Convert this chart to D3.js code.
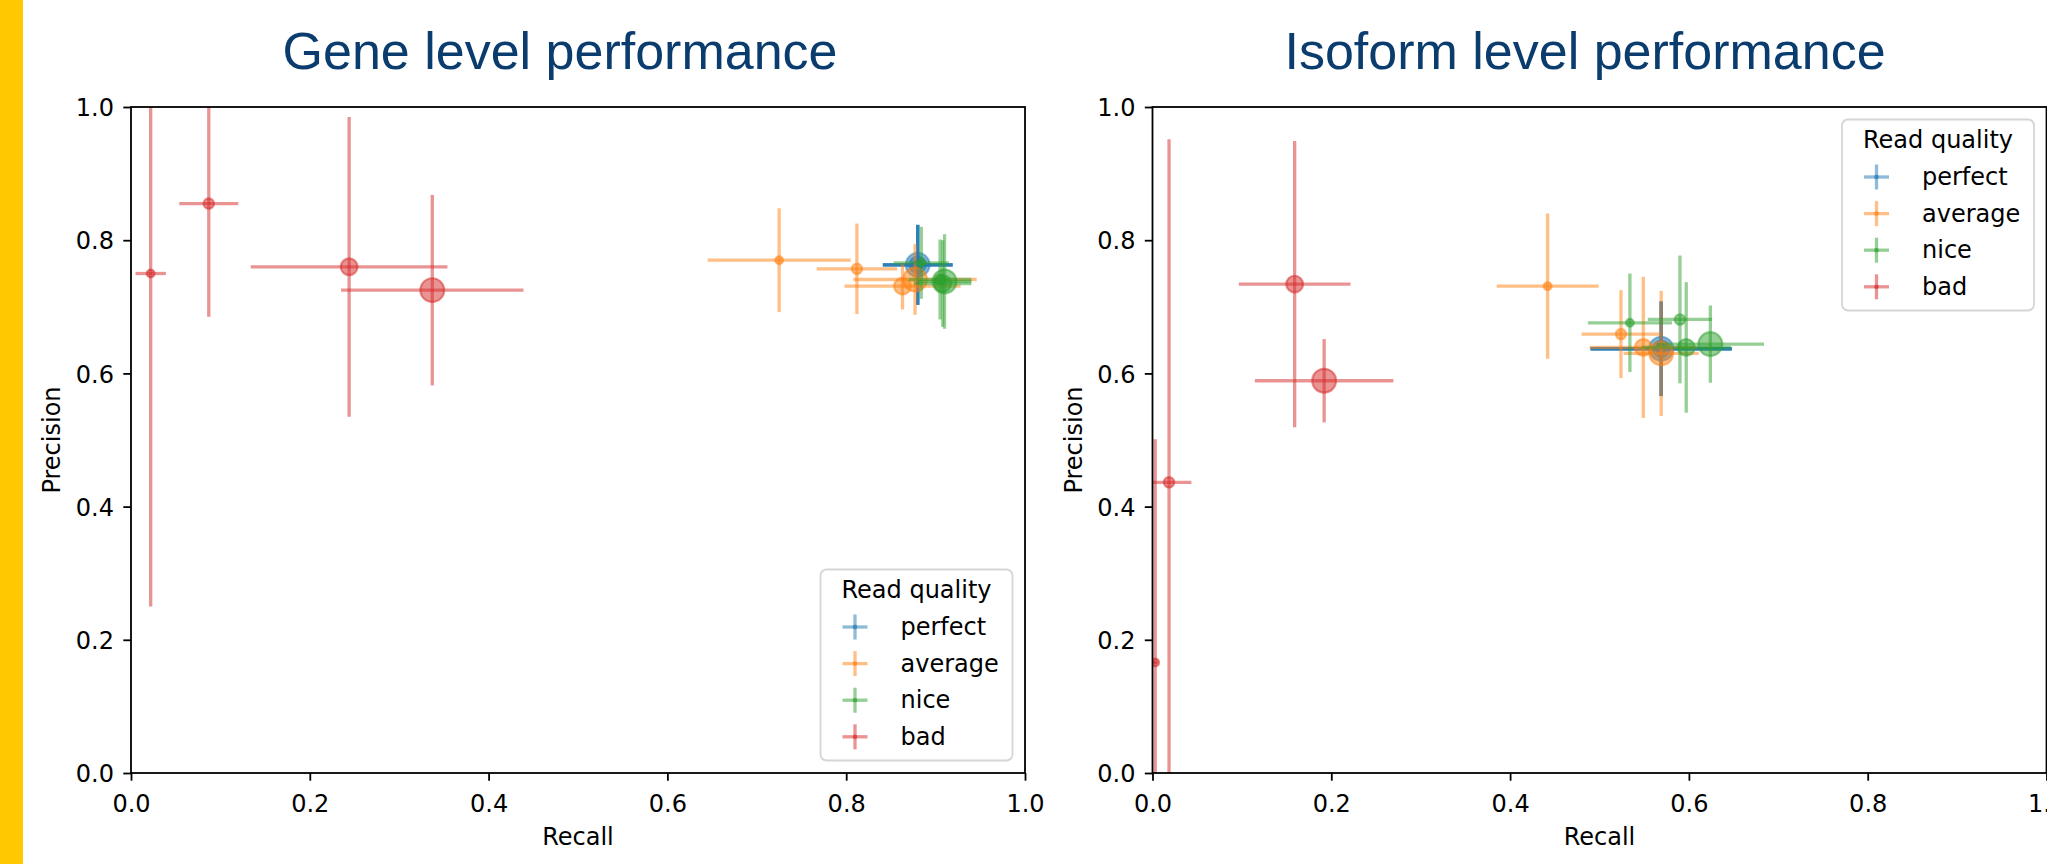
<!DOCTYPE html>
<html>
<head>
<meta charset="utf-8">
<script src="https://cdnjs.cloudflare.com/ajax/libs/d3/7.8.5/d3.min.js"></script>
<style>
  body { margin: 0; background: #fff; }
  svg { display: block; }
</style>
</head>
<body>
<script>
// series names (legend order = draw order)
var qualities = ["perfect", "average", "nice", "bad"];
var tickValues = [0.0, 0.2, 0.4, 0.6, 0.8, 1.0];

// one row per run: [recall, precision, recall err, precision err]
// row index = marker size class (small -> large)
var genePerfect = [[0.880, 0.763, 0.039, 0.060], [0.880, 0.763, 0.039, 0.060], [0.880, 0.763, 0.039, 0.060], [0.880, 0.763, 0.039, 0.060]];
var geneAverage = [[0.725, 0.770, 0.080, 0.078], [0.812, 0.757, 0.045, 0.068], [0.863, 0.731, 0.065, 0.035], [0.877, 0.741, 0.069, 0.053]];
var geneNice    = [[0.884, 0.766, 0.031, 0.054], [0.905, 0.741, 0.035, 0.060], [0.908, 0.735, 0.032, 0.065], [0.910, 0.738, 0.030, 0.071]];
var geneBad     = [[0.022, 0.750, 0.017, 0.500], [0.087, 0.855, 0.033, 0.170], [0.244, 0.760, 0.110, 0.225], [0.337, 0.725, 0.102, 0.143]];

var isoPerfect = [[0.569, 0.637, 0.079, 0.071], [0.569, 0.637, 0.079, 0.071], [0.569, 0.637, 0.079, 0.071], [0.569, 0.637, 0.079, 0.071]];
var isoAverage = [[0.442, 0.731, 0.057, 0.109], [0.524, 0.659, 0.044, 0.066], [0.549, 0.639, 0.060, 0.106], [0.569, 0.630, 0.042, 0.094]];
var isoNice    = [[0.534, 0.676, 0.047, 0.074], [0.590, 0.681, 0.036, 0.096], [0.597, 0.639, 0.050, 0.098], [0.624, 0.644, 0.060, 0.058]];
var isoBad     = [[0.003, 0.166, 0.003, 0.335], [0.0185, 0.4365, 0.025, 0.515], [0.159, 0.734, 0.0625, 0.215], [0.192, 0.589, 0.0775, 0.0625]];

var width = 2047, height = 864;
var plotTop = 107, plotBottom = 773, plotW = 894;
var fontSize = 24;
var tickFont = "'DejaVu Sans', sans-serif";

var colors = d3.scaleOrdinal().domain(qualities).range(["#1f77b4", "#ff7f0e", "#2ca02c", "#d62728"]);
var radius = d3.scaleOrdinal().domain([0, 1, 2, 3]).range([3.9, 5.2, 8.4, 11.9]);

var svg = d3.select("body").append("svg")
    .attr("width", width)
    .attr("height", height);

// yellow slide stripe on the left
svg.append("rect")
    .attr("x", 0).attr("y", 0)
    .attr("width", 23).attr("height", height)
    .attr("fill", "#ffc800");

var panels = [
    { id: "gene", title: "Gene level performance", titleX: 560, left: 131,
      data: [genePerfect, geneAverage, geneNice, geneBad], legend: "bottom" },
    { id: "iso", title: "Isoform level performance", titleX: 1585, left: 1152.5,
      data: [isoPerfect, isoAverage, isoNice, isoBad], legend: "top" }
];

panels.forEach(drawPanel);

function drawPanel(p) {
    var x = d3.scaleLinear().domain([0, 1]).range([p.left, p.left + plotW]);
    var y = d3.scaleLinear().domain([0, 1]).range([plotBottom, plotTop]);

    // Title
    svg.append("text")
        .attr("x", p.titleX)
        .attr("y", 69)
        .attr("text-anchor", "middle")
        .attr("font-family", "'Liberation Sans', Arial, sans-serif")
        .attr("font-size", 52)
        .attr("fill", "#0b3c6e")
        .text(p.title);

    var clipId = "clip-" + p.id;
    svg.append("clipPath").attr("id", clipId)
        .append("rect")
        .attr("x", x(0)).attr("y", y(1))
        .attr("width", x(1) - x(0)).attr("height", y(0) - y(1));

    var marks = svg.append("g").attr("clip-path", "url(#" + clipId + ")");

    // error bars + markers, one errorbar per run
    qualities.forEach(function (q, qi) {
        var c = colors(q);
        p.data[qi].forEach(function (d, i) {
            var g = marks.append("g");
            g.append("line")
                .attr("x1", x(d[0] - d[2])).attr("x2", x(d[0] + d[2]))
                .attr("y1", y(d[1])).attr("y2", y(d[1]))
                .attr("stroke", c).attr("stroke-opacity", 0.5)
                .attr("stroke-width", 3.3);
            g.append("line")
                .attr("x1", x(d[0])).attr("x2", x(d[0]))
                .attr("y1", y(d[1] - d[3])).attr("y2", y(d[1] + d[3]))
                .attr("stroke", c).attr("stroke-opacity", 0.5)
                .attr("stroke-width", 3.3);
            g.append("circle")
                .attr("cx", x(d[0])).attr("cy", y(d[1]))
                .attr("r", radius(i))
                .attr("fill", c).attr("fill-opacity", 0.5)
                .attr("stroke", c).attr("stroke-opacity", 0.5)
                .attr("stroke-width", 2.2);
        });
    });

    // Axes
    var fmt = d3.format(".1f");
    var xAxis = g => g
        .attr("transform", `translate(0,${plotBottom})`)
        .call(d3.axisBottom(x).tickValues(tickValues).tickFormat(fmt).tickSize(7.7).tickSizeOuter(0).tickPadding(14))
        .call(g => g.select(".domain").remove())
        .call(g => g.selectAll(".tick line").attr("stroke-width", 1.8))
        .call(g => g.selectAll(".tick text").attr("dy", "0.71em").attr("fill", "#000"));
    var yAxis = g => g
        .attr("transform", `translate(${p.left},0)`)
        .call(d3.axisLeft(y).tickValues(tickValues).tickFormat(fmt).tickSize(7.7).tickSizeOuter(0).tickPadding(9.3))
        .call(g => g.select(".domain").remove())
        .call(g => g.selectAll(".tick line").attr("stroke-width", 1.8))
        .call(g => g.selectAll(".tick text").attr("dy", "0.36em").attr("fill", "#000"));

    // d3 sets its own font on the axis group, so override after the call
    svg.append("g").call(xAxis).attr("font-size", fontSize).attr("font-family", tickFont);
    svg.append("g").call(yAxis).attr("font-size", fontSize).attr("font-family", tickFont);

    // spines
    svg.append("rect")
        .attr("x", x(0)).attr("y", y(1))
        .attr("width", x(1) - x(0)).attr("height", y(0) - y(1))
        .attr("fill", "none")
        .attr("stroke", "#000")
        .attr("stroke-width", 1.8);

    // axis labels
    svg.append("text")
        .attr("x", (x(0) + x(1)) / 2)
        .attr("y", 845)
        .attr("text-anchor", "middle")
        .attr("font-family", tickFont)
        .attr("font-size", fontSize)
        .text("Recall");
    svg.append("text")
        .attr("transform", `translate(${p.left - 71},${(y(0) + y(1)) / 2}) rotate(-90)`)
        .attr("text-anchor", "middle")
        .attr("font-family", tickFont)
        .attr("font-size", fontSize)
        .text("Precision");

    // Legend
    var lw = 192, lh = 191, inset = 12.5;
    var lx = x(1) - inset - lw;
    var ly = p.legend === "top" ? y(1) + inset : y(0) - inset - lh;
    var legend = svg.append("g").attr("transform", `translate(${lx},${ly})`);
    legend.append("rect")
        .attr("width", lw).attr("height", lh)
        .attr("rx", 6).attr("ry", 6)
        .attr("fill", "#fff").attr("fill-opacity", 0.8)
        .attr("stroke", "#d5d5d5").attr("stroke-width", 1.8);
    legend.append("text")
        .attr("x", lw / 2).attr("y", 28.5)
        .attr("text-anchor", "middle")
        .attr("font-family", tickFont)
        .attr("font-size", fontSize)
        .text("Read quality");

    var item = legend.selectAll("g.item")
        .data(qualities)
        .join("g")
        .attr("class", "item")
        .attr("transform", (d, i) => `translate(0,${65.5 + i * 36.6})`);
    item.append("line")
        .attr("x1", 34.5 - 12.5).attr("x2", 34.5 + 12.5)
        .attr("y1", -8).attr("y2", -8)
        .attr("stroke", d => colors(d)).attr("stroke-opacity", 0.5).attr("stroke-width", 3.3);
    item.append("line")
        .attr("x1", 34.5).attr("x2", 34.5)
        .attr("y1", -8 - 12.5).attr("y2", -8 + 12.5)
        .attr("stroke", d => colors(d)).attr("stroke-opacity", 0.5).attr("stroke-width", 3.3);
    item.append("circle")
        .attr("cx", 34.5).attr("cy", -8).attr("r", 2.4)
        .attr("fill", d => colors(d)).attr("fill-opacity", 0.5);
    item.append("text")
        .attr("x", 80).attr("y", 0)
        .attr("font-family", tickFont)
        .attr("font-size", fontSize)
        .text(d => d);
}
</script>
</body>
</html>
